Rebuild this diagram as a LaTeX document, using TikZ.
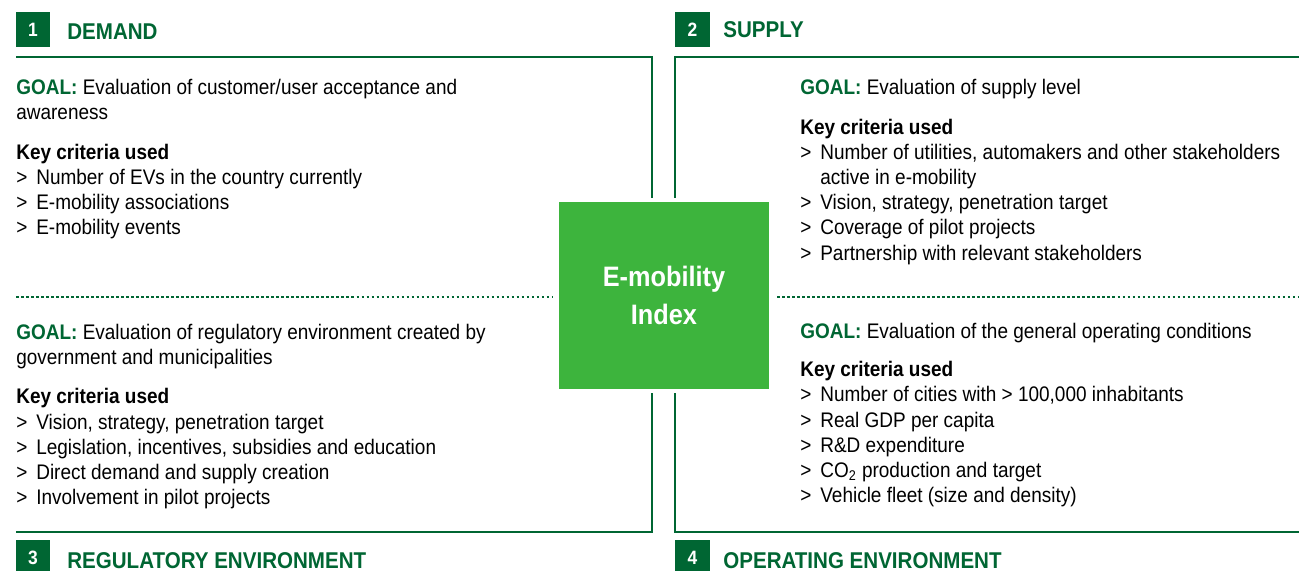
\documentclass[tikz,border=0pt]{standalone}
\usepackage{fontspec}
\setmainfont{Liberation Sans}[FakeStretch=0.9]
\usetikzlibrary{positioning}

\definecolor{dkgreen}{RGB}{0,102,51}
\definecolor{ltgreen}{RGB}{61,180,61}

\newcommand{\goal}{\textcolor{dkgreen}{\bfseries GOAL:}}
\newcommand{\crit}{\makebox[0.4cm][l]{>}}

\begin{document}
\begin{tikzpicture}[
  x=0.02cm, y=-0.02cm,
  frame/.style={draw=dkgreen, line width=1.4pt},
  divider/.style={draw=dkgreen, line width=1.6pt, dash pattern=on 1.5pt off 1.35pt},
  badge/.style={fill=dkgreen, text=white, font=\bfseries\fontsize{11}{12}\selectfont,
    minimum width=0.7cm, minimum height=0.7cm, inner sep=0pt},
  title/.style={anchor=base west, inner sep=0pt, text=dkgreen,
    font=\bfseries\fontsize{13}{15}\selectfont},
  % text blocks are placed by the baseline of their last line
  panel/.style={anchor=base west, inner sep=0pt, align=left,
    font=\fontsize{12}{14.23}\selectfont},
  hub/.style={fill=ltgreen, text=white, align=center, inner sep=0pt,
    minimum width=4.2cm, minimum height=3.74cm,
    font=\bfseries\fontsize{16}{22}\selectfont}
]
\path[use as bounding box, fill=white] (0,0) rectangle (1299,571);

% centre box
\node[hub] (hub) at (664,295.5) {E-mobility\\Index};

% quadrant frames, open towards the centre box
\draw[frame] (16,57) -| (652,198);
\draw[frame] (652,393) |- (16,532);
\draw[frame] (1299,57) -| (675,198);
\draw[frame] (675,393) |- (1299,532);
\draw[divider] (16,297) -- (553,297);
\draw[divider] (777,297) -- (1299,297);

% headings
\node[badge] (num1) at (33,29.5) {1};
\node[title] (head1) at (67,40) {DEMAND};
\node[badge] (num2) at (692.5,29.5) {2};
\node[title] (head2) at (723,38) {SUPPLY};
\node[badge] (num3) at (33,557.5) {3};
\node[title] (head3) at (67,568) {REGULATORY ENVIRONMENT};
\node[badge] (num4) at (692.5,557.5) {4};
\node[title] (head4) at (723,568) {OPERATING ENVIRONMENT};

% 1 demand
\node[panel] (goal1) at (16,120) {\goal{} Evaluation of customer/user acceptance and\\awareness};
\node[panel] (crit1) at (16,235) {\textbf{Key criteria used}\\
  \crit Number of EVs in the country currently\\
  \crit E-mobility associations\\
  \crit E-mobility events};

% 2 supply
\node[panel] (goal2) at (800,95) {\goal{} Evaluation of supply level};
\node[panel] (crit2) at (800,260) {\textbf{Key criteria used}\\
  \crit Number of utilities, automakers and other stakeholders\\
  \hspace*{0.4cm}active in e-mobility\\
  \crit Vision, strategy, penetration target\\
  \crit Coverage of pilot projects\\
  \crit Partnership with relevant stakeholders};

% 3 regulatory environment
\node[panel] (goal3) at (16,364) {\goal{} Evaluation of regulatory environment created by\\government and municipalities};
\node[panel] (crit3) at (16,504) {\textbf{Key criteria used}\\
  \crit Vision, strategy, penetration target\\
  \crit Legislation, incentives, subsidies and education\\
  \crit Direct demand and supply creation\\
  \crit Involvement in pilot projects};

% 4 operating environment
\node[panel] (goal4) at (800,338) {\goal{} Evaluation of the general operating conditions};
\node[panel] (crit4) at (800,502) {\textbf{Key criteria used}\\
  \crit Number of cities with > 100,000 inhabitants\\
  \crit Real GDP per capita\\
  \crit R\&D expenditure\\
  \crit CO\textsubscript{2} production and target\\
  \crit Vehicle fleet (size and density)};
\end{tikzpicture}
\end{document}
